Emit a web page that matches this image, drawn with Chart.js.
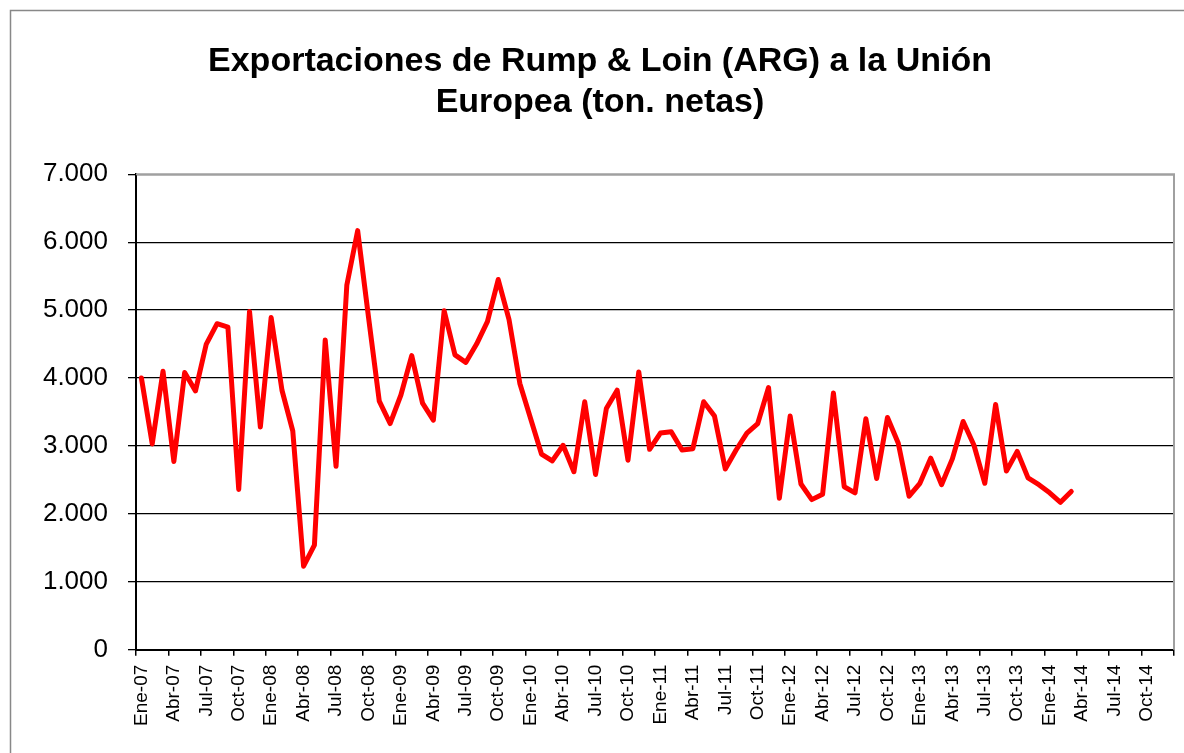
<!DOCTYPE html>
<html>
<head>
<meta charset="utf-8">
<script src="https://cdn.jsdelivr.net/npm/chart.js@4.4.1/dist/chart.umd.min.js"></script>
<style>
  html, body { margin: 0; padding: 0; background: #fff; }
  #wrap { width: 1184px; height: 753px; }
</style>
</head>
<body>
<div id="wrap"><canvas id="chart" width="1184" height="753"></canvas></div>
<script>
// months and years used for the category axis
const months = ['Ene', 'Feb', 'Mar', 'Abr', 'May', 'Jun', 'Jul', 'Ago', 'Sep', 'Oct', 'Nov', 'Dic'];
const years = ['07', '08', '09', '10', '11', '12', '13', '14'];

// monthly exports, Ene-07 .. Mar-14 (ton. netas)
const exportsTon = [
  4000, 3030, 4100, 2770, 4080, 3810, 4500, 4800, 4750, 2360, 4980, 3280,
  4890, 3820, 3220, 1230, 1540, 4560, 2700, 5370, 6170, 4900, 3660, 3330,
  3750, 4330, 3630, 3380, 4990, 4340, 4230, 4500, 4830, 5450, 4860, 3920,
  3400, 2880, 2780, 3010, 2620, 3650, 2580, 3550, 3820, 2790, 4090, 2950,
  3190, 3210, 2940, 2960, 3650, 3440, 2660, 2940, 3190, 3330, 3860, 2230,
  3440, 2440, 2210, 2290, 3780, 2400, 2310, 3400, 2520, 3420, 3040, 2260,
  2450, 2820, 2430, 2810, 3360, 3010, 2450, 3610, 2630, 2920, 2530, 2430,
  2310, 2170, 2330
];

const yTicks = [0, 1000, 2000, 3000, 4000, 5000, 6000, 7000];

const labels = [];
years.forEach(y => months.forEach(m => labels.push(m + '-' + y)));

const fmtMiles = v => String(v).replace(/\B(?=(\d{3})+(?!\d))/g, '.');

// white background, outer frame and grey plot border (top / right)
const framePlugin = {
  id: 'frame',
  beforeDraw(chart) {
    const ctx = chart.ctx;
    ctx.save();
    ctx.fillStyle = '#fff';
    ctx.fillRect(0, 0, chart.width, chart.height);
    ctx.strokeStyle = '#888';
    ctx.lineWidth = 1.5;
    ctx.strokeRect(10.5, 10.5, chart.width + 20, chart.height + 20);
    ctx.restore();
  },
  beforeDatasetsDraw(chart) {
    const a = chart.chartArea;
    const ctx = chart.ctx;
    ctx.save();
    ctx.strokeStyle = '#a0a0a0';
    ctx.lineWidth = 2;
    ctx.beginPath();
    ctx.moveTo(a.left, a.top);
    ctx.lineTo(a.right, a.top);
    ctx.lineTo(a.right, a.bottom);
    ctx.stroke();
    ctx.restore();
  }
};

new Chart(document.getElementById('chart'), {
  type: 'line',
  data: {
    labels: labels,
    datasets: [{
      label: 'Rump & Loin',
      data: exportsTon,
      borderColor: '#ff0000',
      borderWidth: 5,
      pointRadius: 0,
      tension: 0,
      borderJoinStyle: 'round',
      borderCapStyle: 'round',
      fill: false
    }]
  },
  options: {
    responsive: false,
    animation: false,
    layout: { padding: { top: 12, left: 26, right: 10, bottom: 18 } },
    plugins: {
      legend: { display: false },
      tooltip: { enabled: false },
      title: {
        display: true,
        text: ['Exportaciones de Rump & Loin (ARG) a la Unión', 'Europea (ton. netas)'],
        color: '#000',
        font: { family: '"Liberation Sans", Arial, sans-serif', size: 34, weight: 'bold', lineHeight: 1.18 },
        padding: { top: 30, bottom: 52 }
      }
    },
    scales: {
      x: {
        type: 'category',
        offset: true,
        border: { color: '#000', width: 2 },
        afterFit: s => { s.paddingLeft = 0; s.paddingRight = 0; },
        grid: {
          offset: true,
          drawOnChartArea: false,
          drawTicks: true,
          tickLength: 6,
          lineWidth: 1.5,
          color: c => (c.index === undefined || c.index % 3 === 0) ? '#000' : 'rgba(0,0,0,0)'
        },
        ticks: {
          autoSkip: false,
          maxRotation: 90,
          minRotation: 90,
          padding: 9,
          color: '#000',
          font: { family: '"Liberation Sans", Arial, sans-serif', size: 19 },
          callback: (v, i) => (i % 3 === 0 ? labels[i] : '')
        }
      },
      y: {
        min: 0,
        max: 7000,
        border: { color: '#000', width: 2 },
        afterFit: s => { s.width = 110; },
        afterBuildTicks: s => { s.ticks = yTicks.map(v => ({ value: v })); },
        grid: {
          color: '#000',
          lineWidth: 1.3,
          drawTicks: true,
          tickLength: 8,
          tickColor: '#000'
        },
        ticks: {
          padding: 20,
          color: '#000',
          font: { family: '"Liberation Sans", Arial, sans-serif', size: 26 },
          callback: v => fmtMiles(v)
        }
      }
    }
  },
  plugins: [framePlugin]
});
</script>
</body>
</html>
